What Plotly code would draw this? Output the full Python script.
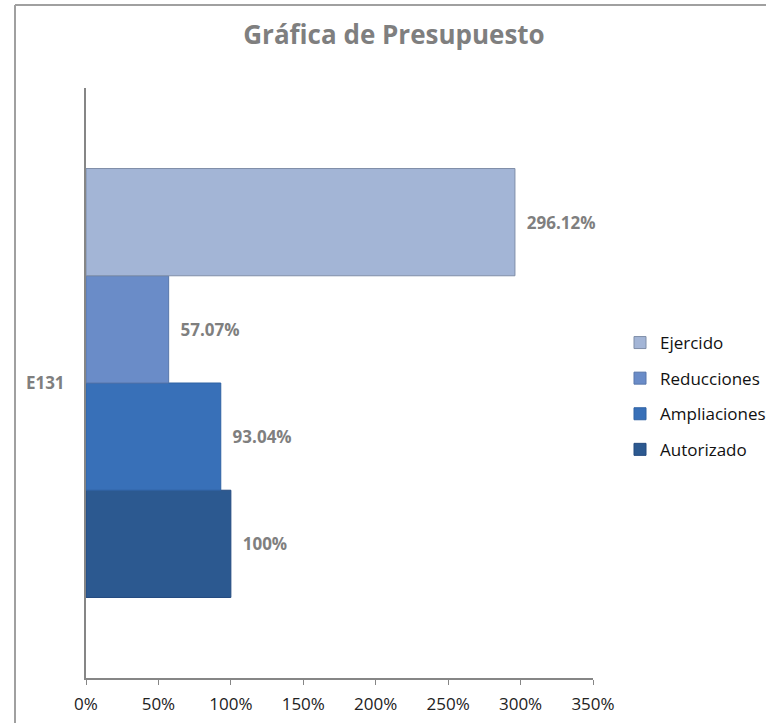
import plotly.graph_objects as go

categories = ["E131"]
series_names = ["Autorizado", "Ampliaciones", "Reducciones", "Ejercido"]
series_values = [100, 93.04, 57.07, 296.12]
series_colors = ["#2c5990", "#3870b8", "#6a8cc8", "#a3b5d6"]
edge_colors = ["#234a7f", "#2f62a3", "#5877ab", "#7f8ea8"]
legend_ranks = [4, 3, 2, 1]
x_ticks = [0, 50, 100, 150, 200, 250, 300, 350]
x_tick_labels = [f"{t}%" for t in x_ticks]

W, H = 766, 723
ML, MR, MT, MB = 86, 173, 88, 45
PW = W - ML - MR
PH = H - MT - MB

fig = go.Figure()
for name, val, col, ec, rk in zip(series_names, series_values, series_colors, edge_colors, legend_ranks):
    fig.add_trace(go.Bar(
        name=name,
        y=categories,
        x=[val],
        orientation="h",
        marker=dict(color=col, line=dict(color=ec, width=1)),
        text=["\u00a0\u00a0" + f"{val:g}%"],
        textposition="outside",
        textfont=dict(family="Open Sans", size=17, color="#7f7f7f", weight="bold"),
        cliponaxis=False,
        legendgroup=name,
        legendrank=rk,
        hoverinfo="skip",
    ))

def px_to_paper_x(px):
    return (px - ML) / PW

def px_to_paper_y(py):
    return (H - MB - py) / PH

bx = px_to_paper_x(15)
by = px_to_paper_y(5)

fig.update_layout(
    width=W, height=H,
    margin=dict(l=ML, r=MR, t=MT, b=MB, autoexpand=False),
    paper_bgcolor="white",
    plot_bgcolor="white",
    barmode="group",
    bargap=0.273,
    bargroupgap=0,
    title=dict(
        text="<b>Gráfica de Presupuesto</b>",
        x=394 / W, xanchor="center", xref="container",
        y=1 - 35 / H, yanchor="middle", yref="container",
        font=dict(family="Open Sans", size=26, color="#7f7f7f"),
    ),
    xaxis=dict(
        range=[0, 350],
        tickvals=x_ticks,
        ticktext=x_tick_labels,
        showgrid=False,
        zeroline=False,
        showline=True,
        linecolor="#868686",
        linewidth=2,
        ticks="outside",
        ticklen=5,
        tickcolor="#868686",
        tickwidth=1,
        ticklabelstandoff=5,
        tickfont=dict(family="Open Sans", size=17, color="#222222"),
        fixedrange=True,
    ),
    yaxis=dict(
        showgrid=False,
        zeroline=False,
        showline=True,
        linecolor="#868686",
        linewidth=2,
        ticks="",
        ticklabelstandoff=16,
        tickfont=dict(family="Open Sans", size=17, color="#7f7f7f", weight="bold"),
        fixedrange=True,
    ),
    legend=dict(
        traceorder="grouped",
        x=px_to_paper_x(620), xanchor="left",
        y=px_to_paper_y(325), yanchor="top",
        font=dict(family="Open Sans", size=17, color="#111111"),
        tracegroupgap=10.5,
        bgcolor="rgba(0,0,0,0)",
    ),
    showlegend=True,
    shapes=[
        dict(type="line", xref="paper", yref="paper", x0=bx, x1=1.6, y0=by, y1=by,
             line=dict(color="#a0a0a0", width=2)),
        dict(type="line", xref="paper", yref="paper", x0=bx, x1=bx, y0=by, y1=-0.2,
             line=dict(color="#a0a0a0", width=2)),
    ],
)

fig.write_html(
    "out.html",
    config={"displayModeBar": False},
    post_script="document.body.style.margin='0';document.body.style.overflow='hidden';",
)
